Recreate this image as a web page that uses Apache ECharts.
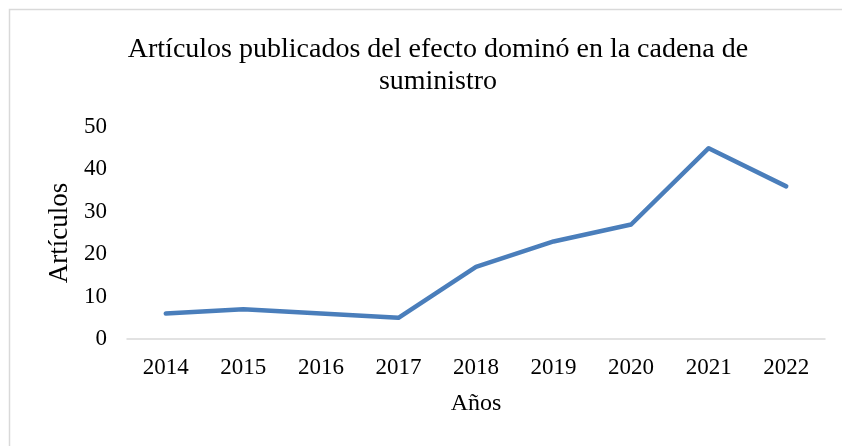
<!DOCTYPE html>
<html>
<head>
<meta charset="utf-8">
<script src="https://cdn.jsdelivr.net/npm/echarts@6/dist/echarts.min.js"></script>
<style>html,body{margin:0;padding:0;background:#fff;}#c{width:842px;height:446px;}</style>
</head>
<body>
<div id="c"></div>
<script>
const years = ['2014','2015','2016','2017','2018','2019','2020','2021','2022'];
const articles = [6, 7, 6, 5, 17, 23, 27, 45, 36];
const yTicks = { min: 0, max: 50, interval: 10 };
const titleText = 'Artículos publicados del efecto dominó en la cadena de\nsuministro';
const xName = 'Años';
const yName = 'Artículos';

const font = '"Liberation Serif", "Times New Roman", serif';
const chart = echarts.init(document.getElementById('c'), null, { renderer: 'canvas' });
chart.setOption({
  animation: false,
  backgroundColor: '#fff',
  graphic: [{
    type: 'rect', silent: true, z: -1,
    shape: { x: 9.5, y: 9.5, width: 900, height: 500 },
    style: { fill: 'none', stroke: '#d9d9d9', lineWidth: 1.5 }
  }],
  title: {
    text: titleText,
    left: 433, top: 29, textAlign: 'center',
    textStyle: { fontFamily: font, fontSize: 28, fontWeight: 'normal', color: '#000', lineHeight: 32 }
  },
  grid: { left: 127, right: 17, top: 127, bottom: 107, containLabel: false },
  xAxis: {
    type: 'category', data: years, boundaryGap: true,
    name: xName, nameLocation: 'middle', nameGap: 53,
    nameTextStyle: { fontFamily: font, fontSize: 24, color: '#000' },
    axisLine: { show: true, lineStyle: { color: '#d9d9d9', width: 1.5 } },
    axisTick: { show: false },
    axisLabel: { fontFamily: font, fontSize: 23, color: '#000', margin: 17 },
    splitLine: { show: false }
  },
  yAxis: {
    type: 'value', min: yTicks.min, max: yTicks.max, interval: yTicks.interval,
    name: yName, nameLocation: 'middle', nameGap: 53,
    nameTextStyle: { fontFamily: font, fontSize: 27, color: '#000' },
    axisLine: { show: false }, axisTick: { show: false },
    axisLabel: { fontFamily: font, fontSize: 23, color: '#000', margin: 20 },
    splitLine: { show: false }
  },
  series: [{
    type: 'line', data: articles, showSymbol: false, symbol: 'none',
    lineStyle: { color: '#4a7ebb', width: 4.5, cap: 'round', join: 'round' },
    itemStyle: { color: '#4a7ebb' }
  }]
});
</script>
</body>
</html>
